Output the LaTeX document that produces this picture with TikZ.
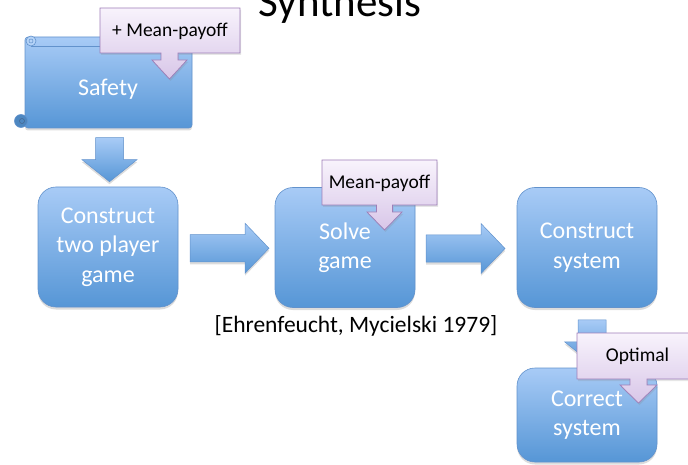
\documentclass[tikz,border=0pt]{standalone}
\usepackage{fontspec}
\setmainfont{Carlito}
\usetikzlibrary{shadows,calc}

\definecolor{boxtop}{RGB}{168,203,246}
\definecolor{boxbot}{RGB}{86,150,214}
\definecolor{boxline}{RGB}{98,146,204}
\definecolor{calltop}{RGB}{248,243,252}
\definecolor{callbot}{RGB}{216,198,232}
\definecolor{callline}{RGB}{158,126,184}

\tikzset{
  softshadow/.style={drop shadow={opacity=0.28, shadow xshift=0pt, shadow yshift=-2.5pt}},
  stepbox/.style={rounded corners=18pt, top color=boxtop, bottom color=boxbot,
    draw=boxline, line width=0.6pt, minimum width=140pt, minimum height=120pt,
    text=white, align=center, font=\fontsize{24}{29.5}\selectfont, softshadow},
  blockarrow/.style={top color=boxtop, bottom color=boxbot, draw=boxline,
    line width=0.5pt, softshadow},
  callout/.style={top color=calltop, bottom color=callbot, draw=callline,
    line width=0.7pt, drop shadow={opacity=0.2, shadow xshift=1pt, shadow yshift=-2pt}},
  calltext/.style={font=\fontsize{19.5}{22}\selectfont, text=black},
  pics/rightarrow/.style={code={
    \path[blockarrow] (-39.5,-13.5) -- (15.5,-13.5) -- (15.5,-25) -- (39.5,0)
      -- (15.5,25) -- (15.5,13.5) -- (-39.5,13.5) -- cycle;}},
  pics/downarrow/.style={code={
    \path[blockarrow] (-14,-22) -- (14,-22) -- (14,0) -- (27.5,0) -- (0,22)
      -- (-27.5,0) -- (-14,0) -- cycle;}},
}

\begin{document}
\begin{tikzpicture}[x=1pt,y=-1pt]
\useasboundingbox (0,0) rectangle (688,465);
\clip (0,0) rectangle (688,465);

% title
\node[font=\fontsize{43}{50}\selectfont, anchor=base] (title) at (340,17) {Synthesis};

% specification scroll
\path[top color=boxtop, bottom color=boxbot, draw=boxline, line width=0.6pt,
  rounded corners=3pt, softshadow] (25,37) rectangle (192,128);
\draw[boxline, line width=0.6pt] (31,46) -- (192,46);
\filldraw[fill=boxtop!85!white, draw=boxline, line width=0.6pt] (31,41) circle (5);
\draw[boxline, line width=0.5pt] (31,41) circle (2);
\filldraw[fill=boxbot!90!black, draw=boxline, line width=0.6pt] (21,121) circle (6.5);
\draw[boxline!70!black, line width=0.5pt] (22,121) circle (2.5);
\node[text=white, font=\fontsize{24}{29}\selectfont] (safety) at (108,89) {Safety};

% extension note on the specification
\path[callout] (100,8) -- (240,8) -- (240,53) -- (178,53) -- (178,60) -- (187,60)
  -- (169.5,79) -- (152,60) -- (161,60) -- (161,53) -- (100,53) -- cycle;
\node[calltext] (note1) at (170,31) {+ Mean-payoff};

% main pipeline
\node[stepbox] (game) at (108,247) {Construct\\two player\\game};
\node[stepbox] (solve) at (345,247.5) {Solve\\game};
\node[stepbox] (system) at (587,247.5) {Construct\\system};
\node[stepbox, minimum height=94pt] (correct) at (587,415) {Correct\\system};

\pic at ($(game.north)+(1.5,-27)$) {downarrow};
\pic at ($(game.east)!0.5!(solve.west)+(3,1)$) {rightarrow};
\pic at ($(solve.east)!0.5!(system.west)+(-0.5,1)$) {rightarrow};
\pic at ($(system.south)!0.5!(correct.north)+(5,4)$) {downarrow};

% extension note on solving
\path[callout] (322,160) -- (437,160) -- (437,205) -- (392.5,205) -- (392.5,212)
  -- (402,212) -- (384.5,230) -- (367,212) -- (376.5,212) -- (376.5,205)
  -- (322,205) -- cycle;
\node[calltext] (note2) at (379.5,183) {Mean-payoff};

% extension note on the result
\path[callout] (577,333) -- (700,333) -- (700,379) -- (647,379) -- (647,385)
  -- (657,385) -- (638.5,403) -- (620,385) -- (630,385) -- (630,379)
  -- (577,379) -- cycle;
\node[calltext] (note3) at (637.5,356) {Optimal};

% reference
\node[font=\fontsize{23.5}{28}\selectfont, anchor=base] (cite) at (356,332)
  {[Ehrenfeucht, Mycielski 1979]};
\end{tikzpicture}
\end{document}
